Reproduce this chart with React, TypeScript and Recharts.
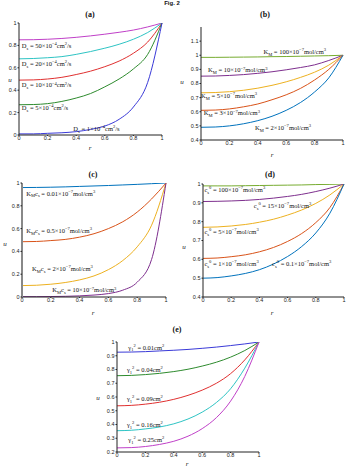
import { LineChart, Line, XAxis, YAxis, ReferenceDot } from 'recharts'

// radial position r (shared by every panel)
const R = [0, 0.1, 0.2, 0.3, 0.4, 0.5, 0.6, 0.7, 0.8, 0.9, 1]
const X_TICKS = [0, 0.2, 0.4, 0.6, 0.8, 1]

// (a) diffusion coefficient D_s
const aD1 = [0.01, 0.01, 0.015, 0.02, 0.03, 0.05, 0.08, 0.14, 0.25, 0.47, 1]
const aD5 = [0.27, 0.272, 0.28, 0.3, 0.33, 0.37, 0.43, 0.5, 0.59, 0.72, 1]
const aD10 = [0.49, 0.492, 0.5, 0.515, 0.54, 0.57, 0.61, 0.66, 0.73, 0.83, 1]
const aD20 = [0.68, 0.683, 0.69, 0.7, 0.72, 0.745, 0.775, 0.81, 0.855, 0.915, 1]
const aD50 = [0.85, 0.851, 0.855, 0.862, 0.872, 0.885, 0.9, 0.917, 0.937, 0.965, 1]

// (b) Michaelis constant K_M
const bK2 = [0.49, 0.492, 0.5, 0.515, 0.537, 0.568, 0.61, 0.665, 0.74, 0.84, 1]
const bK3 = [0.61, 0.612, 0.62, 0.635, 0.655, 0.685, 0.72, 0.765, 0.825, 0.9, 1]
const bK5 = [0.734, 0.736, 0.742, 0.752, 0.767, 0.787, 0.812, 0.843, 0.88, 0.93, 1]
const bK10 = [0.852, 0.853, 0.857, 0.863, 0.872, 0.883, 0.897, 0.913, 0.932, 0.963, 1]
const bK100 = [0.985, 0.985, 0.986, 0.987, 0.988, 0.99, 0.991, 0.993, 0.995, 0.997, 1]

// (c) K_M c_s
const cK001 = [0.96, 0.961, 0.963, 0.966, 0.97, 0.974, 0.978, 0.983, 0.988, 0.994, 1]
const cK05 = [0.485, 0.487, 0.495, 0.505, 0.525, 0.555, 0.6, 0.66, 0.745, 0.86, 1]
const cK2 = [0.1, 0.103, 0.112, 0.127, 0.15, 0.185, 0.24, 0.32, 0.44, 0.63, 1]
const cK10 = [0.003, 0.003, 0.004, 0.006, 0.01, 0.017, 0.03, 0.06, 0.13, 0.33, 1]

// (d) bulk concentration c_s^0
const dC01 = [0.5, 0.503, 0.512, 0.525, 0.545, 0.575, 0.615, 0.668, 0.74, 0.845, 1]
const dC1 = [0.605, 0.607, 0.614, 0.624, 0.64, 0.663, 0.695, 0.737, 0.795, 0.875, 1]
const dC5 = [0.77, 0.772, 0.777, 0.785, 0.797, 0.813, 0.835, 0.862, 0.897, 0.942, 1]
const dC15 = [0.907, 0.908, 0.91, 0.913, 0.918, 0.925, 0.934, 0.945, 0.96, 0.978, 1]
const dC100 = [0.99, 0.99, 0.99, 0.991, 0.992, 0.993, 0.994, 0.995, 0.997, 0.998, 1]

// (e) gamma^2
const eG001 = [0.926, 0.927, 0.93, 0.935, 0.94, 0.946, 0.954, 0.963, 0.974, 0.986, 1]
const eG004 = [0.755, 0.757, 0.763, 0.772, 0.785, 0.802, 0.825, 0.853, 0.89, 0.938, 1]
const eG009 = [0.536, 0.539, 0.548, 0.562, 0.583, 0.612, 0.65, 0.7, 0.77, 0.87, 1]
const eG016 = [0.355, 0.358, 0.368, 0.382, 0.405, 0.44, 0.49, 0.56, 0.66, 0.81, 1]
const eG025 = [0.23, 0.232, 0.24, 0.255, 0.278, 0.315, 0.37, 0.45, 0.57, 0.75, 1]

const OLD = { blue: '#3a3ad8', green: '#2e8b2e', red: '#e03030', cyan: '#2ec4c4', magenta: '#c040c8' }
const NEW = { blue: '#0072BD', orange: '#D95319', yellow: '#EDB120', purple: '#7E2F8E', green: '#77AC30' }

type Seg = { t: string; k: 'n' | 'sub' | 'sup' }

// tiny markup: _{sub} and ^{sup}
function parse(s: string): Seg[] {
  const out: Seg[] = []
  const re = /([_^])\{([^}]*)\}/g
  let last = 0
  let m: RegExpExecArray | null
  while ((m = re.exec(s))) {
    if (m.index > last) out.push({ t: s.slice(last, m.index), k: 'n' })
    out.push({ t: m[2], k: m[1] === '_' ? 'sub' : 'sup' })
    last = re.lastIndex
  }
  if (last < s.length) out.push({ t: s.slice(last), k: 'n' })
  return out
}

function RichText({ x, y, text, size = 6.5 }: { x: number; y: number; text: string; size?: number }) {
  let shift = 0
  return (
    <text x={x} y={y + size * 0.35} fontSize={size} fontFamily="Liberation Serif" fill="#111">
      {parse(text).map((s, i) => {
        const target = s.k === 'sub' ? size * 0.3 : s.k === 'sup' ? -size * 0.45 : 0
        const dy = target - shift
        shift = target
        return <tspan key={i} dy={dy} fontSize={s.k === 'n' ? size : size * 0.7}>{s.t}</tspan>
      })}
    </text>
  )
}

const fmt = (v: number) => String(Math.round(v * 10) / 10)

interface Series { key: string; values: number[]; color: string }
interface Lbl { r: number; u: number; text: string }
interface Box { left: number; top: number; w: number; h: number }
interface Frame { left?: [string, number]; top?: [string, number]; right?: [string, number] }

function Panel({ box, yDomain, yTicks, series, labels, frame = {} }: {
  box: Box; yDomain: [number, number]; yTicks: number[]; series: Series[]; labels: Lbl[]; frame?: Frame
}) {
  const ML = 20, MT = 10, MR = 6, XH = 10
  const data = R.map((r, i) => {
    const row: Record<string, number> = { r }
    series.forEach(s => { row[s.key] = s.values[i] })
    return row
  })
  const tick = { fontSize: 5.5, fill: '#222', fontFamily: 'Liberation Sans' }
  const [lc, lw] = frame.left ?? ['#222', 1]
  const [tc, tw] = frame.top ?? ['#222', 1]
  const [rc, rw] = frame.right ?? ['#222', 1]
  return (
    <div style={{ position: 'absolute', left: box.left - ML, top: box.top - MT }}>
      <LineChart width={ML + box.w + MR} height={MT + box.h + XH} data={data}
        margin={{ top: MT, right: MR, bottom: 0, left: 0 }}>
        <XAxis dataKey="r" type="number" domain={[0, 1]} ticks={X_TICKS} tickFormatter={fmt}
          height={XH} tick={tick} tickSize={1} tickMargin={0.5} stroke="#222" interval={0} />
        <XAxis xAxisId="top" orientation="top" dataKey="r" type="number" domain={[0, 1]}
          height={0} tick={false} tickLine={false} axisLine={{ stroke: tc, strokeWidth: tw }} />
        <YAxis width={ML} type="number" domain={yDomain} ticks={yTicks} tickFormatter={fmt}
          tick={tick} tickSize={1.5} tickMargin={1} axisLine={{ stroke: lc, strokeWidth: lw }}
          tickLine={{ stroke: '#222' }} interval={0} allowDataOverflow />
        <YAxis yAxisId="right" orientation="right" width={0} type="number" domain={yDomain}
          tick={false} tickLine={false} axisLine={{ stroke: rc, strokeWidth: rw }} />
        {series.map(s => (
          <Line key={s.key} dataKey={s.key} stroke={s.color} strokeWidth={1} dot={false}
            type="monotone" isAnimationActive={false} />
        ))}
        {labels.map((l, i) => (
          <ReferenceDot key={i} x={l.r} y={l.u} r={0} ifOverflow="visible"
            shape={(p: any) => <RichText x={p.cx} y={p.cy} text={l.text} />} />
        ))}
      </LineChart>
    </div>
  )
}

const txt = (x: number, y: number, s: string, extra: any = {}) => (
  <div style={{
    position: 'absolute', left: x, top: y, transform: 'translate(-50%,-50%)',
    fontFamily: 'Liberation Serif', fontSize: 7, lineHeight: 1, whiteSpace: 'nowrap', color: '#111', ...extra,
  }}>{s}</div>
)

export default function App() {
  return (
    <div style={{ position: 'absolute', left: 0, top: 0, width: 347, height: 467, background: '#fff', overflow: 'hidden' }}>
      {txt(172, 3, 'Fig. 2', { fontFamily: 'Liberation Sans', fontSize: 6, fontWeight: 'bold' })}

      {txt(90, 15, '(a)', { fontWeight: 'bold', fontSize: 8 })}
      {txt(10, 80, 'u', { fontStyle: 'italic' })}
      {txt(90, 148, 'r', { fontStyle: 'italic' })}
      <Panel box={{ left: 19, top: 23, w: 143, h: 112 }} yDomain={[0, 1]} yTicks={[0, 0.2, 0.4, 0.6, 0.8, 1]}
        series={[
          { key: 'd50', values: aD50, color: OLD.magenta },
          { key: 'd20', values: aD20, color: OLD.cyan },
          { key: 'd10', values: aD10, color: OLD.red },
          { key: 'd5', values: aD5, color: OLD.green },
          { key: 'd1', values: aD1, color: OLD.blue },
        ]}
        labels={[
          { r: 0.02, u: 0.8, text: 'D_{s} = 50×10^{−4}cm^{2}/s' },
          { r: 0.02, u: 0.635, text: 'D_{s} = 20×10^{−4}cm^{2}/s' },
          { r: 0.02, u: 0.445, text: 'D_{s} = 10×10^{−4}cm^{2}/s' },
          { r: 0.02, u: 0.24, text: 'D_{s} = 5×10^{−4}cm^{2}/s' },
          { r: 0.38, u: 0.06, text: 'D_{s} = 1×10^{−4}cm^{2}/s' },
        ]} />

      {txt(265, 15, '(b)', { fontWeight: 'bold', fontSize: 8 })}
      {txt(182, 82, 'u', { fontStyle: 'italic' })}
      {txt(272, 155, 'r', { fontStyle: 'italic' })}
      <Panel box={{ left: 201, top: 27, w: 142, h: 113 }} yDomain={[0.4, 1.2]}
        yTicks={[0.4, 0.5, 0.6, 0.7, 0.8, 0.9, 1, 1.1]} frame={{ top: ['#888', 2] }}
        series={[
          { key: 'k100', values: bK100, color: NEW.green },
          { key: 'k10', values: bK10, color: NEW.purple },
          { key: 'k5', values: bK5, color: NEW.yellow },
          { key: 'k3', values: bK3, color: NEW.orange },
          { key: 'k2', values: bK2, color: NEW.blue },
        ]}
        labels={[
          { r: 0.44, u: 1.023, text: 'K_{M} = 100×10^{−7}mol/cm^{3}' },
          { r: 0.05, u: 0.894, text: 'K_{M} = 10×10^{−7}mol/cm^{3}' },
          { r: 0.0, u: 0.716, text: 'K_{M} = 5×10^{−7}mol/cm^{3}' },
          { r: 0.02, u: 0.59, text: 'K_{M} = 3×10^{−7}mol/cm^{3}' },
          { r: 0.38, u: 0.49, text: 'K_{M} = 2×10^{−7}mol/cm^{3}' },
        ]} />

      {txt(93, 175, '(c)', { fontWeight: 'bold', fontSize: 8 })}
      {txt(5, 244, 'u', { fontStyle: 'italic' })}
      {txt(93, 313, 'r', { fontStyle: 'italic' })}
      <Panel box={{ left: 22, top: 183, w: 144, h: 114 }} yDomain={[0, 1]} yTicks={[0, 0.2, 0.4, 0.6, 0.8, 1]}
        frame={{ left: ['#888', 2], right: ['#888', 2] }}
        series={[
          { key: 'c001', values: cK001, color: NEW.blue },
          { key: 'c05', values: cK05, color: NEW.orange },
          { key: 'c2', values: cK2, color: NEW.yellow },
          { key: 'c10', values: cK10, color: NEW.purple },
        ]}
        labels={[
          { r: 0.03, u: 0.91, text: 'K_{M}c_{s} = 0.01×10^{−7}mol/cm^{3}' },
          { r: 0.03, u: 0.585, text: 'K_{M}c_{s} = 0.5×10^{−7}mol/cm^{3}' },
          { r: 0.07, u: 0.245, text: 'K_{M}c_{s} = 2×10^{−7}mol/cm^{3}' },
          { r: 0.21, u: 0.06, text: 'K_{M}c_{s} = 10×10^{−7}mol/cm^{3}' },
        ]} />

      {txt(270, 175, '(d)', { fontWeight: 'bold', fontSize: 8 })}
      {txt(184, 247, 'u', { fontStyle: 'italic' })}
      {txt(272, 313, 'r', { fontStyle: 'italic' })}
      <Panel box={{ left: 203, top: 184, w: 141, h: 113 }} yDomain={[0.4, 1]}
        yTicks={[0.4, 0.5, 0.6, 0.7, 0.8, 0.9, 1]}
        series={[
          { key: 'c100', values: dC100, color: NEW.green },
          { key: 'c15', values: dC15, color: NEW.purple },
          { key: 'c5', values: dC5, color: NEW.yellow },
          { key: 'c1', values: dC1, color: NEW.orange },
          { key: 'c01', values: dC01, color: NEW.blue },
        ]}
        labels={[
          { r: 0.01, u: 0.968, text: 'c_{s}^{0} = 100×10^{−7}mol/cm^{3}' },
          { r: 0.36, u: 0.884, text: 'c_{s}^{0} = 15×10^{−7}mol/cm^{3}' },
          { r: 0.01, u: 0.747, text: 'c_{s}^{0} = 5×10^{−7}mol/cm^{3}' },
          { r: 0.01, u: 0.578, text: 'c_{s}^{0} = 1×10^{−7}mol/cm^{3}' },
          { r: 0.49, u: 0.578, text: 'c_{s}^{0} = 0.1×10^{−7}mol/cm^{3}' },
        ]} />

      {txt(177, 330, '(e)', { fontWeight: 'bold', fontSize: 8 })}
      {txt(98, 398, 'u', { fontStyle: 'italic' })}
      {txt(187, 464, 'r', { fontStyle: 'italic' })}
      <Panel box={{ left: 117, top: 342, w: 142, h: 110 }} yDomain={[0.2, 1]}
        yTicks={[0.2, 0.3, 0.4, 0.5, 0.6, 0.7, 0.8, 0.9, 1]}
        series={[
          { key: 'g001', values: eG001, color: OLD.blue },
          { key: 'g004', values: eG004, color: OLD.green },
          { key: 'g009', values: eG009, color: OLD.red },
          { key: 'g016', values: eG016, color: OLD.cyan },
          { key: 'g025', values: eG025, color: OLD.magenta },
        ]}
        labels={[
          { r: 0.08, u: 0.962, text: 'γ_{1}^{2} = 0.01cm^{2}' },
          { r: 0.07, u: 0.797, text: 'γ_{1}^{2} = 0.04cm^{2}' },
          { r: 0.07, u: 0.588, text: 'γ_{1}^{2} = 0.09cm^{2}' },
          { r: 0.07, u: 0.4, text: 'γ_{1}^{2} = 0.16cm^{2}' },
          { r: 0.08, u: 0.29, text: 'γ_{1}^{2} = 0.25cm^{2}' },
        ]} />
    </div>
  )
}
